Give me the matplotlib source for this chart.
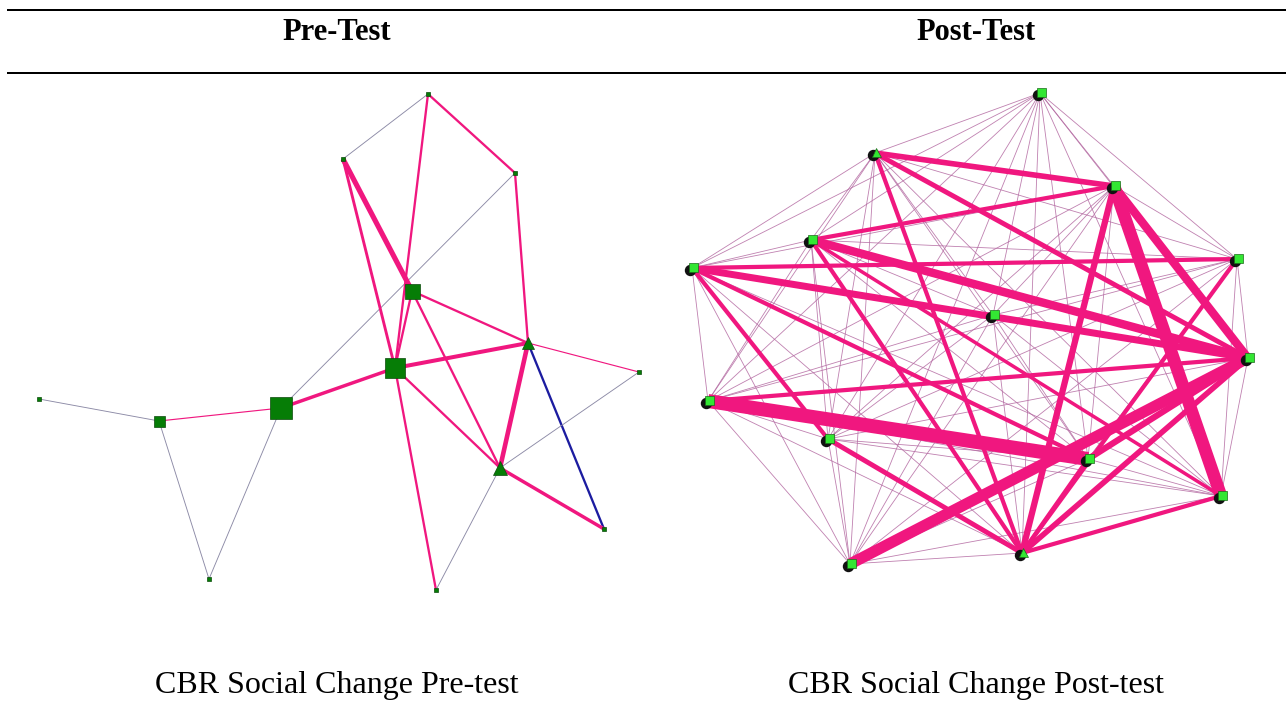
import itertools
import matplotlib.pyplot as plt

plt.rcParams['font.family'] = ['Liberation Serif', 'DejaVu Serif']

# ---- Pre-test network (layout positions, in pixels) ----
pre_nodes = ['A', 'B', 'C', 'D', 'E', 'F', 'G', 'H', 'I', 'J', 'K', 'L', 'M', 'N']
pre_x = [39, 159, 281, 209, 395, 412, 343, 428, 515, 528, 639, 500, 604, 436]
pre_y = [399, 421, 408, 579, 368, 291, 159, 94, 173, 343, 372, 468, 529, 590]
pre_size = [5, 11, 22, 5, 20, 15, 5, 5, 5, 12, 4, 14, 5, 5]
pre_shape = ['s', 's', 's', 's', 's', 's', 's', 's', 's', '^', 's', '^', 's', 's']

# (from, to, tie strength, tie type)
pre_edges = [
    ('A', 'B', 1, 'weak'), ('B', 'C', 1, 'pink'), ('B', 'D', 1, 'weak'),
    ('C', 'D', 1, 'weak'), ('C', 'E', 3, 'pink'), ('C', 'I', 1, 'weak'),
    ('G', 'H', 1, 'weak'), ('H', 'I', 2, 'pink'), ('H', 'E', 2, 'pink'),
    ('G', 'F', 4.5, 'pink'), ('G', 'E', 2.5, 'pink'), ('I', 'J', 2, 'pink'),
    ('F', 'J', 2, 'pink'), ('F', 'L', 2, 'pink'), ('E', 'F', 2, 'pink'),
    ('E', 'J', 3.5, 'pink'), ('E', 'L', 2, 'pink'), ('E', 'N', 2, 'pink'),
    ('J', 'K', 1, 'pink'), ('J', 'M', 2, 'blue'), ('L', 'J', 4, 'pink'),
    ('L', 'K', 1, 'weak'), ('L', 'N', 1, 'weak'), ('L', 'M', 3, 'pink'),
]

# ---- Post-test network ----
post_nodes = ['P1', 'P2', 'P3', 'P4', 'P5', 'P6', 'P7', 'P8', 'P9', 'P10', 'P11', 'P12', 'P13', 'P14']
post_x = [1040, 875, 1114, 811, 692, 1237, 993, 1248, 708, 828, 1088, 1221, 1022, 850]
post_y = [93, 153, 186, 240, 268, 259, 315, 358, 401, 439, 459, 496, 553, 564]
post_shape = ['s', '^', 's', 's', 's', 's', 's', 's', 's', 's', 's', 's', '^', 's']

post_strong = [
    ('P2', 'P3', 4), ('P2', 'P8', 3.5), ('P2', 'P13', 3), ('P4', 'P3', 3),
    ('P4', 'P8', 6), ('P4', 'P13', 3), ('P4', 'P12', 2.5), ('P5', 'P6', 3),
    ('P5', 'P8', 5), ('P5', 'P10', 3), ('P5', 'P11', 3), ('P9', 'P11', 10),
    ('P9', 'P8', 3), ('P10', 'P13', 3.5), ('P14', 'P8', 8), ('P13', 'P12', 3),
    ('P13', 'P8', 4), ('P13', 'P3', 4.5), ('P13', 'P6', 3), ('P13', 'P11', 3),
    ('P3', 'P12', 9), ('P3', 'P8', 6), ('P11', 'P8', 4.5),
]

PINK = '#f0177f'
WEAK = '#8c8aa6'
BLUE = '#1c1ca0'
MAUVE = '#b46aa2'
px = 72 / 100  # pixels -> points at dpi 100

fig = plt.figure(figsize=(12.86, 7.05), dpi=100)
ax = fig.add_axes([0, 0, 1, 1])
ax.set_xlim(0, 1286)
ax.set_ylim(705, 0)
ax.axis('off')

# header rules and titles
ax.plot([8, 1286], [10, 10], color='black', lw=2 * px)
ax.plot([8, 1286], [73, 73], color='black', lw=2 * px)
ax.text(337, 33, 'Pre-Test', ha='center', va='center', fontsize=22, fontweight='bold')
ax.text(976, 33, 'Post-Test', ha='center', va='center', fontsize=22, fontweight='bold')
ax.text(337, 686, 'CBR Social Change Pre-test', ha='center', va='center', fontsize=23)
ax.text(976, 686, 'CBR Social Change Post-test', ha='center', va='center', fontsize=23)

# pre-test edges
pre_pos = {n: (x, y) for n, x, y in zip(pre_nodes, pre_x, pre_y)}
colors = {'weak': WEAK, 'pink': PINK, 'blue': BLUE}
for a, b, w, kind in pre_edges:
    (x1, y1), (x2, y2) = pre_pos[a], pre_pos[b]
    scale = 1.15 if kind != 'weak' else 0.9
    ax.plot([x1, x2], [y1, y2], color=colors[kind], lw=w * px * scale,
            solid_capstyle='butt', zorder=2)

# pre-test nodes
for n, x, y, s, m in zip(pre_nodes, pre_x, pre_y, pre_size, pre_shape):
    ax.plot(x, y, marker=m, ms=s * px, color='#067d06', mec='#0b4a0b', mew=0.5, zorder=4)

# post-test edges: thin ties between every pair, then strong ties on top
post_pos = {n: (x, y) for n, x, y in zip(post_nodes, post_x, post_y)}
for a, b in itertools.combinations(post_nodes, 2):
    (x1, y1), (x2, y2) = post_pos[a], post_pos[b]
    ax.plot([x1, x2], [y1, y2], color=MAUVE, lw=0.6, alpha=0.85, zorder=2)
for a, b, w in post_strong:
    (x1, y1), (x2, y2) = post_pos[a], post_pos[b]
    ax.plot([x1, x2], [y1, y2], color=PINK, lw=w * px * 1.4, solid_capstyle='butt', zorder=3)

# post-test nodes (black arrowhead clusters under bright green markers)
for n, x, y, m in zip(post_nodes, post_x, post_y, post_shape):
    ax.plot(x - 2, y + 2, marker='o', ms=10 * px, color='#111111', zorder=4)
    ax.plot(x + 1, y - 1, marker=m, ms=9 * px, color='#33e633', mec='#1a6a1a', mew=0.5, zorder=5)

fig.savefig('out.png', dpi=100)
